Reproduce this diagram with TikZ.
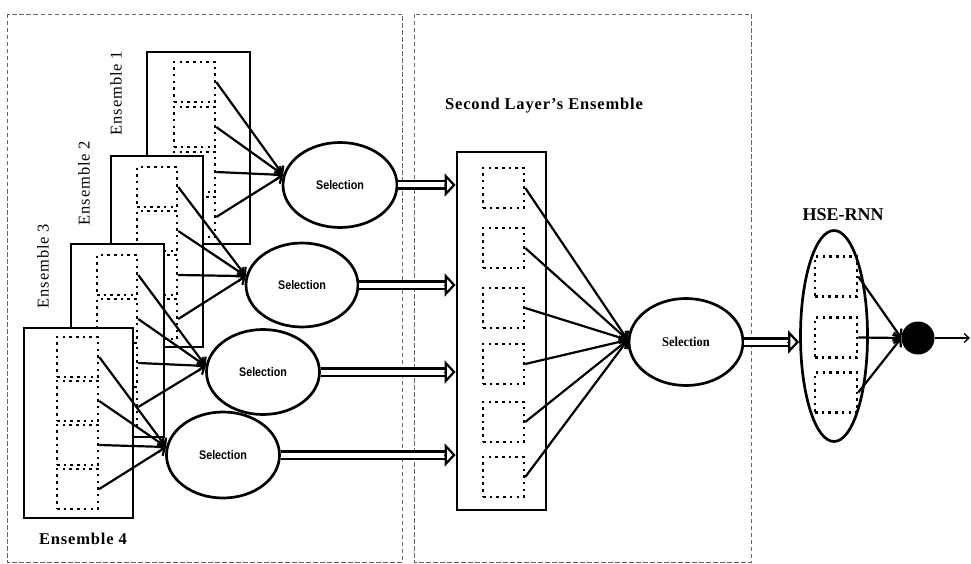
\documentclass[tikz,border=0pt]{standalone}
\usepackage{fontspec}
\setmainfont{Liberation Serif}
\setsansfont{Liberation Sans}
\newfontfamily\spacedserif[LetterSpace=5]{Liberation Serif}
\usetikzlibrary{shapes.geometric,arrows.meta}

\tikzset{
  frame/.style={draw=black!60, line width=0.9pt, dash pattern=on 4.5pt off 2.5pt},
  ensbox/.style={draw, line width=2.8pt, fill=white, inner sep=0pt},
  unit/.style={draw, line width=2.5pt, dash pattern=on 2.5pt off 4.2pt,
    minimum width=41pt, minimum height=40pt, inner sep=0pt},
  sel/.style={draw, ellipse, line width=2.7pt, inner sep=0pt, fill=white,
    font=\sffamily\bfseries\fontsize{12.5}{14}\selectfont},
  feed/.style={line width=2.2pt, -{Straight Barb[length=6pt,width=11pt]}},
  pass/.style={line width=2.2pt, double distance=5pt, shorten >=9pt},
  passtip/.style={-{Triangle[open, fill=white, length=11pt, width=23pt, line width=2.2pt]}, line width=0.1pt},
  enslabel/.style={font=\spacedserif\fontsize{16.5}{18}\selectfont, inner sep=0pt},
  boldlabel/.style={font=\spacedserif\bfseries\fontsize{16.5}{18}\selectfont, inner sep=0pt},
}

\begin{document}
\begin{tikzpicture}[x=1pt, y=-1pt]
\useasboundingbox (0,0) rectangle (971,564);

% layer frames
\draw[frame] (7,14) rectangle (402,562);
\draw[frame] (414,14) rectangle (751,562);

% first-layer ensembles, drawn back to front
\node[ensbox, minimum width=103pt, minimum height=192pt] (E1) at (198.5,148) {};
\foreach \i/\y in {1/82,2/127,3/172,4/217}
  \node[unit] (E1u\i) at (194.5,\y) {};
\node[ensbox, minimum width=92pt, minimum height=191pt] (E2) at (157,251.5) {};
\foreach \i/\y in {1/187,2/231,3/275,4/319}
  \node[unit, minimum width=40pt] (E2u\i) at (157,\y) {};
\node[ensbox, minimum width=93pt, minimum height=193pt] (E3) at (117.5,340.5) {};
\foreach \i/\y in {1/275,2/319,3/363,4/407}
  \node[unit, minimum width=40pt] (E3u\i) at (117,\y) {};
\node[ensbox, minimum width=109pt, minimum height=190pt] (E4) at (78.5,423) {};
\foreach \i/\y in {1/357,2/401,3/445,4/489}
  \node[unit] (E4u\i) at (77.5,\y) {};

% ensemble labels
\node[enslabel, rotate=90] (T1) at (116,93) {Ensemble 1};
\node[enslabel, rotate=90] (T2) at (84,183) {Ensemble 2};
\node[enslabel, rotate=90] (T3) at (43,266) {Ensemble 3};
\node[boldlabel] (T4) at (83,539) {Ensemble 4};

% selection stages of the first layer
\node[sel, minimum width=114pt, minimum height=85pt] (s1) at (340,185) {\scalebox{0.86}[1]{Selection}};
\node[sel, minimum width=112pt, minimum height=84pt] (s2) at (302,285) {\scalebox{0.86}[1]{Selection}};
\node[sel, minimum width=113pt, minimum height=85pt] (s3) at (263,372) {\scalebox{0.86}[1]{Selection}};
\node[sel, minimum width=113pt, minimum height=86pt] (s4) at (223,455) {\scalebox{0.86}[1]{Selection}};

% second layer
\node[boldlabel] (T5) at (544,106) {Second Layer’s Ensemble};
\node[ensbox, minimum width=89pt, minimum height=358pt] (L2) at (501.5,331) {};
\foreach \i/\y in {1/188,2/248,3/308,4/364,5/422,6/477}
  \node[unit] (L2u\i) at (503.5,\y) {};
\node[sel, minimum width=114pt, minimum height=87pt,
  font=\rmfamily\bfseries\fontsize{13.5}{14}\selectfont] (s5) at (686,342) {\scalebox{0.92}[1]{Selection}};

% final model
\node[font=\bfseries\fontsize{18}{20}\selectfont, inner sep=0pt] (T6) at (843,215) {HSE-RNN};
\node[draw, ellipse, line width=2.7pt, minimum width=67pt, minimum height=211pt, inner sep=0pt] (hse) at (834,336) {};
\foreach \i/\y in {1/276.5,2/337.5,3/392.5}
  \node[unit, minimum width=42pt] (Hu\i) at (836,\y) {};
\node[circle, fill=black, minimum size=33pt, inner sep=0pt] (out) at (918,338) {};
\coordinate (end) at (970,338);

% connections: ensemble members to their selection stage
\foreach \i in {1,...,4} {
  \draw[feed] (E1u\i.east) -- (s1.170);
  \draw[feed] (E2u\i.east) -- (s2.171);
  \draw[feed] (E3u\i.east) -- (s3.174);
  \draw[feed] (E4u\i.east) -- (s4.172);
}
\foreach \i in {1,...,6}
  \draw[feed] (L2u\i.east) -- (s5.178);
\foreach \i in {1,...,3}
  \draw[feed] (Hu\i.east) -- (out.west);

% selected members passed on: hollow double arrows
\foreach \s/\t in {s1/L2, s2/L2, s3/L2, s4/L2, s5/hse} {
  \draw[pass] (\s.east) -- (\s.east -| \t.west);
  \draw[passtip] ([xshift=-12pt]\s.east -| \t.west) -- (\s.east -| \t.west);
}

\draw[line width=1.3pt, -{Straight Barb[length=5pt,width=9pt]}] (out.east) -- (end);
\end{tikzpicture}
\end{document}
